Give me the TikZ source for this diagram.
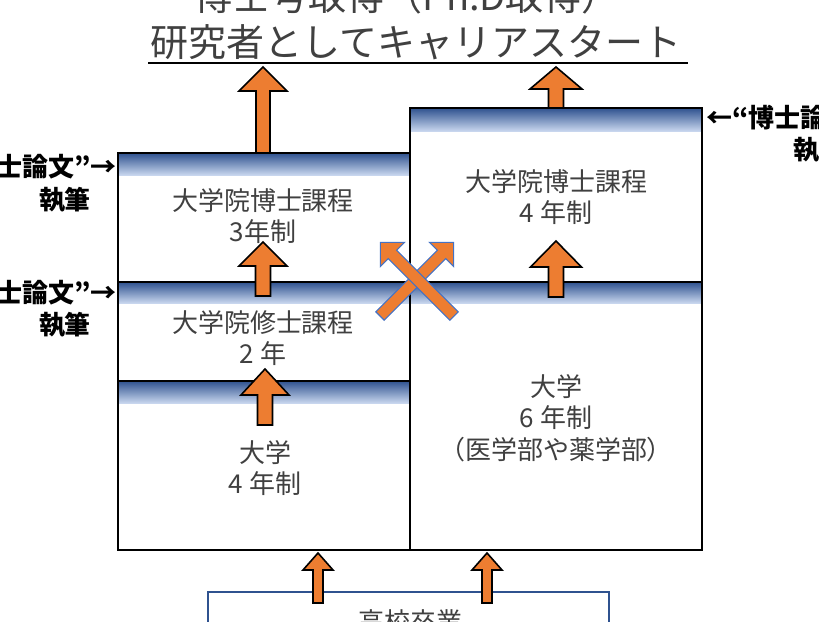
\documentclass[tikz,border=0pt]{standalone}
\usepackage{fontspec}
\setmainfont{Noto Sans CJK JP}
\usetikzlibrary{patterns, positioning}
\definecolor{arroworange}{RGB}{237,125,49}
\definecolor{banddark}{RGB}{47,82,143}
\definecolor{bandlight}{RGB}{200,214,238}
\definecolor{crossedge}{RGB}{68,114,196}
\definecolor{textgray}{RGB}{64,64,64}

\tikzset{
  % block arrow pointing up: length, head length, shaft half width, head half width
  pics/blockarrow/.style n args={4}{code={
    \draw[pic actions] (-#3,0) -- (-#3,-#1+#2) -- (-#4,-#1+#2) -- (0,-#1)
      -- (#4,-#1+#2) -- (#3,-#1+#2) -- (#3,0) -- cycle;
  }}
}

\begin{document}
\begin{tikzpicture}[x=0.75pt, y=-0.75pt,
    stagebox/.style={draw=black, line width=1.5pt, fill=white},
    band/.style={top color=banddark, bottom color=bandlight, draw=none},
    stagetext/.style={text=textgray, align=center, font=\fontsize{19.5}{23.5}\selectfont},
    note/.style={font=\bfseries\fontsize{19.5}{23}\selectfont, inner sep=0pt},
    orangearrow/.style={draw=black, line width=1.2pt, fill=arroworange, line join=miter},
    crossarrow/.style={draw=crossedge, line width=0.8pt, fill=arroworange,
      postaction={pattern=crosshatch dots, pattern color=white}}]
    \useasboundingbox (0,0) rectangle (819,622);

    % Title
    \node[text=textgray, font=\fontsize{28.5}{34}\selectfont] (phd) at (407,-4) {博士号取得（Ph.D取得）};
    \node[text=textgray, font=\fontsize{28.5}{34}\selectfont] (career) at (416,42) {研究者としてキャリアスタート};
    \draw[line width=1.2pt] (148,63) -- (688,63);

    % Stage boxes
    \filldraw[stagebox] (118,153) rectangle (410,550);
    \filldraw[stagebox] (410,108) rectangle (702,550);

    % Gradient bands
    \shade[band] (118,153) rectangle (410,175);
    \shade[band] (118,282) rectangle (410,303);
    \shade[band] (118,381) rectangle (410,403);
    \shade[band] (410,108) rectangle (702,131);
    \shade[band] (410,282) rectangle (702,303);
    \draw[line width=1.5pt] (118,282) -- (702,282);
    \draw[line width=1.5pt] (118,381) -- (410,381);
    \draw[line width=1.5pt] (118,153) rectangle (410,550);
    \draw[line width=1.5pt] (410,108) rectangle (702,550);

    % High school box
    \draw[banddark, line width=1pt] (208,592) rectangle (609,680);
    \node[stagetext] (school) at (410,622) {高校卒業};

    % Stage texts
    \node[stagetext] (dc3) at (263,216) {大学院博士課程\\3年制};
    \node[stagetext] (mc2) at (263,338) {大学院修士課程\\2 年};
    \node[stagetext] (uni4) at (265,468) {大学\\4 年制};
    \node[stagetext] (dc4) at (556,197) {大学院博士課程\\4 年制};
    \node[stagetext] (uni6) at (556,418) {大学\\6 年制\\（医学部や薬学部）};

    % Thesis notes
    \node[note, anchor=east] (thesisA) at (117,167) {“博士論文”→};
    \node[note] (writeA) at (65,200) {執筆};
    \node[note, anchor=east] (thesisB) at (117,293) {“博士論文”→};
    \node[note] (writeB) at (65,325) {執筆};
    \node[note, anchor=west] (thesisC) at (706,118) {←“博士論文”};
    \node[note] (writeC) at (819,150) {執筆};

    % Orange arrows
    \pic[orangearrow] at (263,153) {blockarrow={86}{24}{7}{24}};
    \pic[orangearrow] at (556,108) {blockarrow={41}{22}{7.5}{26}};
    \pic[orangearrow] at (263,296) {blockarrow={54}{24}{7.5}{24}};
    \pic[orangearrow] at (265,425) {blockarrow={56}{26}{7.5}{24}};
    \pic[orangearrow] at (556,297) {blockarrow={56}{26}{7.5}{25.5}};
    \pic[orangearrow] at (318,603) {blockarrow={50}{17}{5}{15}};
    \pic[orangearrow] at (487,603) {blockarrow={50}{17}{5}{15}};

    % Crossed arrows
    \pic[crossarrow, rotate=-45] at (380,316) {blockarrow={104}{17}{6}{17}};
    \pic[crossarrow, rotate=45] at (454,316) {blockarrow={104}{17}{6}{17}};
\end{tikzpicture}
\end{document}
